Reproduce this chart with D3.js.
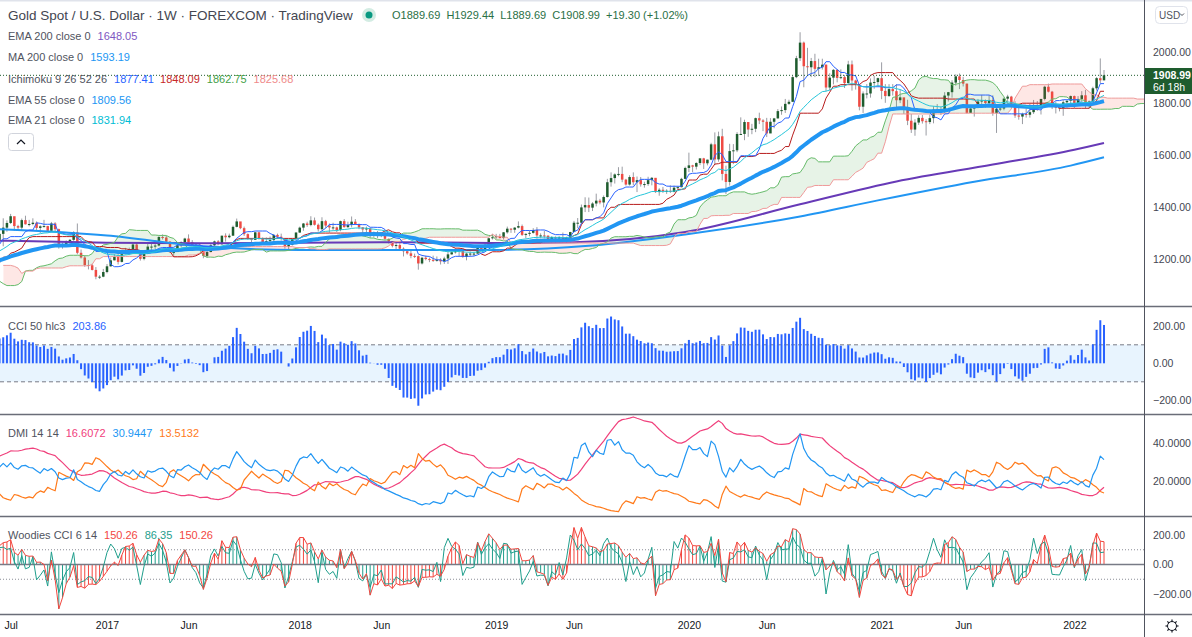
<!DOCTYPE html>
<meta charset="utf-8">
<script src="https://d3js.org/d3.v7.min.js"></script>
<body style="margin:0; background:#fff; overflow:hidden">
<div id="chart"></div>
</body>
<script>

    // Weekly bars [high, low, close]; first row = week of 5 Jan 2015, open of each week = previous close
    var hlc2015 = [
        [1224,1186,1216],[1283,1215,1277],[1307,1275,1293],[1300,1250,1279],
        [1286,1232,1234],[1245,1216,1227],[1233,1195,1204],[1219,1197,1213],
        [1222,1164,1165],[1173,1147,1153],[1188,1142,1183],[1220,1178,1199],[1224,1178,1201],
        [1224,1192,1204],[1209,1183,1203],[1206,1174,1178],[1215,1170,1179],
        [1198,1169,1189],[1232,1182,1225],[1232,1199,1205],[1209,1180,1190],
        [1206,1162,1168],[1194,1163,1180],[1205,1174,1201],[1204,1168,1173],[1188,1161,1168],
        [1175,1146,1157],[1165,1131,1132],[1131,1077,1096],[1105,1077,1094],
        [1104,1080,1094],[1127,1093,1113],[1170,1112,1160],[1168,1118,1134],[1147,1117,1121],
        [1125,1099,1104],[1142,1100,1138],[1157,1128,1146],[1147,1108,1137],
        [1161,1127,1156],[1191,1155,1177],[1179,1160,1163],[1180,1137,1142],
        [1142,1085,1088],[1095,1073,1081],[1090,1062,1076],[1080,1052,1057],[1088,1046,1087],
        [1088,1061,1075],[1080,1047,1066],[1081,1062,1076],[1082,1058,1061]
    ];
    var hlc2016 = [
        [1112,1060,1104],[1104,1072,1089],[1112,1080,1097],[1127,1095,1117],
        [1173,1111,1158],[1263,1157,1239],[1241,1192,1227],[1253,1200,1222],[1282,1226,1270],
        [1287,1239,1259],[1271,1224,1255],[1251,1208,1221],[1244,1208,1222],
        [1244,1211,1242],[1262,1223,1235],[1271,1231,1232],[1297,1233,1291],
        [1304,1263,1291],[1290,1263,1273],[1291,1241,1253],[1256,1208,1214],[1248,1200,1243],
        [1285,1239,1275],[1315,1269,1298],[1358,1250,1322],[1350,1306,1340],
        [1375,1336,1366],[1357,1310,1328],[1333,1311,1322],[1357,1311,1351],
        [1368,1334,1335],[1352,1327,1336],[1358,1331,1341],[1346,1313,1321],[1331,1302,1327],
        [1352,1323,1328],[1329,1305,1310],[1344,1310,1338],[1343,1309,1316],
        [1318,1241,1257],[1264,1241,1251],[1273,1250,1266],[1278,1260,1275],[1308,1271,1304],
        [1338,1219,1225],[1238,1203,1207],[1215,1171,1178],[1197,1161,1177],
        [1183,1157,1159],[1170,1123,1133],[1139,1124,1133],[1163,1131,1151]
    ];
    var hlc2017 = [
        [1182,1146,1173],[1207,1172,1196],[1220,1196,1209],[1220,1180,1190],[1226,1188,1220],
        [1244,1219,1234],[1245,1216,1238],[1264,1233,1257],[1264,1222,1226],
        [1228,1195,1202],[1233,1196,1229],[1259,1227,1249],[1262,1236,1249],
        [1273,1240,1253],[1289,1250,1286],[1296,1276,1284],[1290,1260,1268],
        [1270,1225,1227],[1236,1214,1228],[1264,1228,1254],[1269,1246,1266],[1283,1259,1280],
        [1296,1265,1266],[1274,1251,1254],[1259,1242,1256],[1260,1237,1242],
        [1243,1204,1213],[1234,1205,1228],[1258,1227,1254],[1272,1250,1269],[1274,1256,1258],
        [1291,1256,1291],[1300,1268,1285],[1299,1281,1291],[1330,1290,1325],
        [1357,1323,1346],[1338,1316,1320],[1326,1290,1297],[1300,1275,1280],
        [1281,1261,1275],[1306,1276,1304],[1306,1276,1280],[1284,1263,1266],[1284,1263,1270],
        [1288,1267,1274],[1297,1268,1294],[1299,1281,1287],[1299,1272,1280],
        [1279,1241,1248],[1261,1236,1256],[1279,1253,1278],[1305,1274,1303]
    ];
    var hlc2018 = [
        [1326,1302,1322],[1340,1310,1338],[1345,1325,1332],[1366,1327,1350],[1361,1330,1333],
        [1338,1307,1316],[1362,1311,1347],[1352,1321,1330],[1338,1303,1323],
        [1341,1313,1323],[1326,1305,1313],[1349,1308,1347],[1355,1322,1324],
        [1345,1321,1332],[1365,1323,1345],[1355,1332,1336],[1338,1316,1323],[1324,1302,1315],
        [1326,1305,1319],[1322,1282,1291],[1307,1284,1302],[1309,1281,1294],
        [1304,1285,1298],[1310,1275,1279],[1280,1261,1270],[1270,1246,1252],
        [1264,1238,1255],[1262,1238,1241],[1246,1211,1231],[1235,1218,1223],[1236,1204,1213],
        [1222,1205,1212],[1215,1160,1184],[1210,1180,1206],[1214,1196,1201],
        [1207,1189,1198],[1214,1190,1194],[1211,1191,1198],[1204,1180,1192],
        [1210,1182,1203],[1233,1182,1219],[1233,1218,1227],[1243,1222,1235],[1243,1211,1233],
        [1237,1206,1209],[1226,1196,1222],[1230,1211,1222],[1229,1212,1222],
        [1252,1221,1248],[1252,1235,1238],[1261,1236,1256],[1284,1255,1281]
    ];
    var hlc2019 = [
        [1298,1276,1285],[1298,1279,1289],[1298,1280,1282],[1305,1276,1304],[1326,1299,1318],
        [1320,1302,1314],[1324,1302,1322],[1346,1319,1328],[1334,1290,1294],
        [1300,1281,1298],[1310,1289,1302],[1320,1299,1313],[1324,1280,1292],
        [1300,1281,1292],[1310,1281,1291],[1292,1270,1275],[1289,1266,1286],[1288,1266,1280],
        [1289,1279,1286],[1303,1274,1277],[1287,1266,1284],[1306,1275,1305],
        [1348,1305,1341],[1359,1320,1341],[1411,1338,1400],[1439,1382,1409],
        [1438,1382,1399],[1420,1386,1415],[1453,1404,1426],[1433,1412,1419],[1446,1400,1440],
        [1510,1438,1497],[1535,1480,1513],[1531,1492,1527],[1555,1520,1529],
        [1557,1497,1507],[1510,1484,1488],[1524,1484,1517],[1535,1485,1497],[1519,1459,1505],
        [1517,1480,1489],[1499,1476,1490],[1518,1483,1505],[1517,1485,1514],
        [1512,1456,1459],[1474,1445,1468],[1479,1456,1462],[1470,1452,1464],
        [1485,1456,1460],[1484,1458,1476],[1482,1471,1478],[1514,1477,1510],
        [1557,1510,1552]
    ];
    var hlc2020 = [
        [1611,1536,1562],[1564,1536,1557],[1574,1546,1571],[1589,1563,1589],
        [1591,1548,1570],[1584,1562,1584],[1649,1582,1643],[1689,1564,1585],
        [1692,1576,1674],[1703,1504,1529],[1561,1451,1498],[1645,1484,1617],[1644,1567,1620],
        [1690,1613,1683],[1747,1680,1683],[1738,1659,1729],[1722,1672,1700],
        [1722,1682,1703],[1746,1690,1744],[1765,1721,1735],[1740,1694,1730],
        [1745,1671,1685],[1744,1695,1730],[1745,1705,1743],[1779,1742,1771],[1789,1757,1775],
        [1818,1764,1799],[1815,1795,1807],[1906,1806,1902],[1984,1898,1975],
        [2075,1964,2035],[2039,1863,1944],[2015,1911,1940],[1976,1902,1964],[1992,1902,1934],
        [1973,1906,1940],[1973,1931,1950],[1951,1848,1862],[1917,1851,1900],
        [1933,1874,1930],[1933,1882,1899],[1932,1894,1902],[1910,1860,1879],
        [1965,1877,1951],[1966,1850,1889],[1892,1854,1872],[1875,1774,1788],[1847,1764,1839],
        [1875,1820,1839],[1897,1823,1881],[1907,1857,1883],[1900,1866,1898]
    ];
    var hlc2021 = [
        [1959,1817,1849],[1875,1803,1829],[1875,1826,1856],[1875,1831,1848],
        [1875,1785,1813],[1855,1802,1824],[1822,1760,1784],[1815,1717,1734],
        [1760,1687,1700],[1740,1676,1727],[1755,1718,1745],[1756,1723,1732],[1740,1677,1729],
        [1758,1721,1744],[1790,1724,1777],[1798,1764,1777],[1789,1756,1769],
        [1844,1763,1831],[1845,1808,1844],[1890,1823,1881],[1913,1869,1905],[1916,1856,1891],
        [1903,1866,1877],[1877,1761,1764],[1795,1770,1781],[1795,1750,1787],
        [1818,1782,1808],[1834,1792,1812],[1816,1784,1802],[1832,1791,1814],
        [1832,1753,1763],[1785,1687,1780],[1795,1771,1781],[1823,1774,1819],[1834,1804,1827],
        [1830,1782,1787],[1809,1745,1754],[1787,1738,1750],[1765,1721,1760],
        [1781,1746,1757],[1800,1746,1767],[1814,1760,1793],[1810,1772,1783],
        [1818,1758,1818],[1869,1812,1865],[1877,1843,1846],[1849,1779,1788],[1808,1762,1784],
        [1793,1770,1783],[1814,1753,1805],[1812,1785,1811],[1831,1790,1829]
    ];
    var hlc2022 = [
        [1831,1782,1797],[1829,1796,1818],[1848,1805,1832],[1853,1780,1791],[1812,1781,1808],
        [1865,1806,1859],[1902,1850,1898],[1974,1878,1889.69],[1929.44,1889.69,1908.99]
    ];
    var firstOpen = 1186;

    // Long averages: bar index (0 = week of 2 Jan 2017) and value
    var ma200Idx  = [-29,    0,   26,   52,   78,  104,  130,  156,  187,  208,  234,  260,  269];
    var ma200Val  = [1316, 1292, 1250, 1236, 1236, 1236, 1252, 1296, 1365, 1427, 1499, 1561, 1593];
    var ema200Idx = [-29,    0,   26,   52,   78,  104,  126,  156,  187,  213,  239,  261,  269];
    var ema200Val = [1272, 1264, 1262, 1264, 1266, 1263, 1266, 1305, 1412, 1500, 1565, 1622, 1648];

    // Time axis labels
    var tickIdx  = [-26, 0, 22, 52, 74, 105, 126, 157, 178, 209, 231, 261];
    var tickText = ["Jul", "2017", "Jun", "2018", "Jun", "2019", "Jun", "2020", "Jun", "2021", "Jun", "2022"];

    var priceTicks = [1200, 1400, 1600, 1800, 2000];
    var cciTicks = [200, 0, -200];
    var dmiTicks = [40, 20];
    var woodTicks = [200, 0, -200];

    // Layout
    var W = 1192, H = 637, plotR = 1144;
    var pMain = [0, 306], pCci = [307, 414], pDmi = [415, 516], pWood = [517, 614];
    var labelGray = "#50535e";
    var upCol = "#1e5c2e", downCol = "#ef4a43";

    var svg = d3.select("#chart").append("svg")
        .attr("width", W).attr("height", H)
        .style("font-family", "'Liberation Sans', Arial, sans-serif");
    var defs = svg.append("defs");

    // Build bars
    var raw = [].concat(hlc2015, hlc2016, hlc2017, hlc2018, hlc2019, hlc2020, hlc2021, hlc2022);
    var bars = raw.map(function (d, k) {
        return {i: k - 104, o: k ? raw[k - 1][2] : firstOpen, h: d[0], l: d[1], c: d[2]};
    });
    var closes = bars.map(function (d) { return d.c; });
    var hlc3 = bars.map(function (d) { return (d.h + d.l + d.c) / 3; });

    // Indicator helpers
    function emaCalc(vals, n) {
        var a = 2 / (n + 1), e = null;
        return vals.map(function (v) { e = e == null ? v : a * v + (1 - a) * e; return e; });
    }
    function rma(vals, n) {
        var a = 1 / n, e = null;
        return vals.map(function (v) { e = e == null ? v : a * v + (1 - a) * e; return e; });
    }
    function cciCalc(src, n) {
        return src.map(function (v, k) {
            if (k < n - 1) return null;
            var w = src.slice(k - n + 1, k + 1), m = d3.mean(w);
            var dev = d3.mean(w, function (s) { return Math.abs(s - m); });
            return dev ? (v - m) / (0.015 * dev) : 0;
        });
    }
    function mid(k, n) {
        if (k < n - 1) return null;
        var w = bars.slice(k - n + 1, k + 1);
        return (d3.max(w, function (d) { return d.h; }) + d3.min(w, function (d) { return d.l; })) / 2;
    }

    var ema21 = emaCalc(closes, 21), ema55 = emaCalc(closes, 55);
    var conv = bars.map(function (d, k) { return mid(k, 9); });
    var base = bars.map(function (d, k) { return mid(k, 26); });
    var leadA = bars.map(function (d, k) { return base[k] == null ? null : (conv[k] + base[k]) / 2; });
    var leadB = bars.map(function (d, k) { return mid(k, 52); });
    var cci50 = cciCalc(hlc3, 50);

    // DMI 14 14
    var trs = [], pdm = [], mdm = [];
    bars.forEach(function (d, k) {
        if (k === 0) { trs.push(d.h - d.l); pdm.push(0); mdm.push(0); return; }
        var p = bars[k - 1], up = d.h - p.h, dn = p.l - d.l;
        pdm.push(up > dn && up > 0 ? up : 0);
        mdm.push(dn > up && dn > 0 ? dn : 0);
        trs.push(Math.max(d.h - d.l, Math.abs(d.h - p.c), Math.abs(d.l - p.c)));
    });
    var trR = rma(trs, 14), pR = rma(pdm, 14), mR = rma(mdm, 14);
    var diPlus = pR.map(function (v, k) { return 100 * v / trR[k]; });
    var diMinus = mR.map(function (v, k) { return 100 * v / trR[k]; });
    var adx = rma(diPlus.map(function (v, k) {
        return Math.abs(v - diMinus[k]) / ((v + diMinus[k]) || 1);
    }), 14).map(function (v) { return 100 * v; });

    // Woodies CCI 6 14
    var turbo = cciCalc(closes, 6), cci14 = cciCalc(closes, 14);
    var teal = "#1f9e8c", wred = "#f2473f";
    function woodColor(k) {
        var up = true, down = true;
        for (var j = 1; j <= 5; j++) {
            var v = cci14[k - j];
            if (!(v > 0)) up = false;
            if (!(v < 0)) down = false;
        }
        return up ? teal : down ? wred : (cci14[k] < 0 ? teal : wred);
    }

    // Scales
    var x = d3.scaleLinear().domain([0, 269]).range([107, 1104]);
    var y = d3.scaleLinear().domain([1200, 2000]).range([259.3, 51.7]);
    var yCci = d3.scaleLinear().domain([-200, 200]).range([400.3, 326.3]);
    var yDmi = d3.scaleLinear().domain([20, 40]).range([481, 443.3]);
    var yWood = d3.scaleLinear().domain([-200, 200]).range([594, 535]);

    function pane(id, p) {
        defs.append("clipPath").attr("id", id).append("rect")
            .attr("x", 0).attr("y", p[0]).attr("width", plotR).attr("height", p[1] - p[0]);
        return svg.append("g").attr("clip-path", "url(#" + id + ")");
    }

    function seriesLine(g, vals, yS, color, w, shift) {
        var pts = bars.map(function (d, k) { return {x: d.i + (shift || 0), v: vals[k]}; });
        g.append("path")
            .attr("d", d3.line()
                .defined(function (d) { return d.v != null; })
                .x(function (d) { return x(d.x); })
                .y(function (d) { return yS(d.v); })(pts))
            .attr("fill", "none").attr("stroke", color).attr("stroke-width", w)
            .attr("stroke-linejoin", "round");
    }

    var vis = bars.filter(function (d) { return x(d.i) > -3; });

    // ---------- Main pane ----------
    var gMain = pane("clipMain", pMain);

    // Candles
    gMain.append("g").selectAll("line").data(vis).enter().append("line")
        .attr("x1", function (d) { return x(d.i); }).attr("x2", function (d) { return x(d.i); })
        .attr("y1", function (d) { return y(d.h); }).attr("y2", function (d) { return y(d.l); })
        .attr("stroke", "#9a9ca3").attr("stroke-width", 1);
    gMain.append("g").selectAll("rect").data(vis).enter().append("rect")
        .attr("x", function (d) { return x(d.i) - 1.25; })
        .attr("width", 2.5)
        .attr("y", function (d) { return y(Math.max(d.o, d.c)); })
        .attr("height", function (d) { return Math.max(1, Math.abs(y(d.o) - y(d.c))); })
        .attr("fill", function (d) { return d.c >= d.o ? upCol : downCol; });

    // Ichimoku cloud
    var cloud = bars.map(function (d, k) { return {x: d.i + 25, a: leadA[k], b: leadB[k]}; })
        .filter(function (d) { return d.a != null && d.b != null; });
    var areaAB = d3.area().x(function (d) { return x(d.x); })
        .y0(function (d) { return y(d.a); }).y1(function (d) { return y(d.b); });
    defs.append("clipPath").attr("id", "aboveB").append("path")
        .attr("d", d3.area().x(function (d) { return x(d.x); }).y0(0)
            .y1(function (d) { return y(d.b); })(cloud));
    defs.append("clipPath").attr("id", "belowB").append("path")
        .attr("d", d3.area().x(function (d) { return x(d.x); })
            .y0(function (d) { return y(d.b); }).y1(pMain[1])(cloud));
    gMain.append("path").attr("d", areaAB(cloud)).attr("fill", "rgba(67,160,71,0.13)")
        .attr("clip-path", "url(#aboveB)");
    gMain.append("path").attr("d", areaAB(cloud)).attr("fill", "rgba(244,67,54,0.13)")
        .attr("clip-path", "url(#belowB)");

    // Long averages
    function sparseLine(idx, val, color, w) {
        gMain.append("path")
            .attr("d", d3.line().curve(d3.curveMonotoneX)
                .x(function (d) { return x(d); })
                .y(function (d, j) { return y(val[j]); })(idx))
            .attr("fill", "none").attr("stroke", color).attr("stroke-width", w);
    }
    sparseLine(ema200Idx, ema200Val, "#673ab7", 2);
    sparseLine(ma200Idx, ma200Val, "#2196f3", 2);

    seriesLine(gMain, leadA, y, "#66bb6a", 1, 25);
    seriesLine(gMain, leadB, y, "#ef9a9a", 1, 25);
    seriesLine(gMain, base, y, "#b71c1c", 1);
    seriesLine(gMain, conv, y, "#2962ff", 1);
    seriesLine(gMain, ema55, y, "#2196f3", 4);
    seriesLine(gMain, ema21, y, "#26c6da", 1);

    // Current price line
    var last = bars[bars.length - 1];
    gMain.append("line").attr("x1", 0).attr("x2", plotR)
        .attr("y1", y(last.c)).attr("y2", y(last.c))
        .attr("stroke", upCol).attr("stroke-width", 1).attr("stroke-dasharray", "1,2");

    // ---------- CCI pane ----------
    var gCci = pane("clipCci", pCci);
    gCci.append("rect").attr("x", 0).attr("width", plotR)
        .attr("y", yCci(100)).attr("height", yCci(-100) - yCci(100))
        .attr("fill", "rgba(33,150,243,0.1)");
    [100, -100].forEach(function (v) {
        gCci.append("line").attr("x1", 0).attr("x2", plotR).attr("y1", yCci(v)).attr("y2", yCci(v))
            .attr("stroke", "#787b86").attr("stroke-dasharray", "4,3");
    });
    gCci.append("g").selectAll("rect").data(vis).enter().append("rect")
        .attr("x", function (d) { return x(d.i) - 1; })
        .attr("width", 2)
        .attr("y", function (d) { var v = cci50[d.i + 104]; return Math.min(yCci(v), yCci(0)); })
        .attr("height", function (d) { var v = cci50[d.i + 104]; return Math.abs(yCci(v) - yCci(0)); })
        .attr("fill", "#2962ff");

    // ---------- DMI pane ----------
    var gDmi = pane("clipDmi", pDmi);
    seriesLine(gDmi, adx, yDmi, "#f0407c", 1.2);
    seriesLine(gDmi, diMinus, yDmi, "#ff7a1a", 1.2);
    seriesLine(gDmi, diPlus, yDmi, "#2196f3", 1.2);

    // ---------- Woodies CCI pane ----------
    var gWood = pane("clipWood", pWood);
    [100, -100].forEach(function (v) {
        gWood.append("line").attr("x1", 0).attr("x2", plotR).attr("y1", yWood(v)).attr("y2", yWood(v))
            .attr("stroke", "#8a8d96").attr("stroke-dasharray", "1,2");
    });
    gWood.append("g").selectAll("line").data(vis).enter().append("line")
        .attr("x1", function (d) { return x(d.i); }).attr("x2", function (d) { return x(d.i); })
        .attr("y1", yWood(0))
        .attr("y2", function (d) { return yWood(cci14[d.i + 104]); })
        .attr("stroke", function (d) { return woodColor(d.i + 104); }).attr("stroke-width", 1);
    gWood.append("line").attr("x1", 0).attr("x2", plotR).attr("y1", yWood(0)).attr("y2", yWood(0))
        .attr("stroke", "#787b86").attr("stroke-width", 1.5);
    seriesLine(gWood, turbo, yWood, teal, 1);
    seriesLine(gWood, cci14, yWood, wred, 1);

    // ---------- Frame ----------
    svg.append("rect").attr("x", 0).attr("y", 0).attr("width", W).attr("height", 1.5).attr("fill", "#e0e3eb");
    [pMain[1] + 0.5, pCci[1] + 0.5, pDmi[1] + 0.5, pWood[1] + 0.5].forEach(function (yy) {
        svg.append("line").attr("x1", 0).attr("x2", W).attr("y1", yy).attr("y2", yy)
            .attr("stroke", "#6a6d78").attr("stroke-width", 1.5);
    });
    svg.append("line").attr("x1", plotR + 0.5).attr("x2", plotR + 0.5).attr("y1", 0).attr("y2", H)
        .attr("stroke", "#50535e").attr("stroke-width", 1);

    // ---------- Axes ----------
    function rightAxis(scale, ticks, fmt) {
        svg.append("g").attr("transform", "translate(" + plotR + ",0)")
            .call(d3.axisRight(scale).tickValues(ticks).tickFormat(d3.format(fmt)).tickSize(0).tickPadding(9))
            .call(function (g) { g.select(".domain").remove(); })
            .selectAll("text").style("font-size", "10.5px").attr("fill", "#434651");
    }
    rightAxis(y, priceTicks, ".2f");
    rightAxis(yCci, cciTicks, ".2f");
    rightAxis(yDmi, dmiTicks, ".4f");
    rightAxis(yWood, woodTicks, ".2f");

    svg.append("g").attr("transform", "translate(0," + pWood[1] + ")")
        .call(d3.axisBottom(x).tickValues(tickIdx)
            .tickFormat(function (d, j) { return tickText[j]; }).tickSize(0).tickPadding(8))
        .call(function (g) { g.select(".domain").remove(); })
        .selectAll("text").style("font-size", "10.5px").attr("fill", "#131722");

    // Price label
    svg.append("rect").attr("x", plotR + 1).attr("y", 68).attr("width", W - plotR - 1).attr("height", 26)
        .attr("fill", upCol);
    svg.append("text").attr("x", 1153).attr("y", 79).text(d3.format(".2f")(last.c))
        .attr("fill", "#fff").style("font-size", "10.5px").style("font-weight", "bold");
    svg.append("text").attr("x", 1153).attr("y", 91).text("6d 18h")
        .attr("fill", "#fff").style("font-size", "10.5px");

    // USD button
    svg.append("rect").attr("x", 1155.5).attr("y", 6.5).attr("width", 32).attr("height", 17).attr("rx", 4)
        .attr("fill", "#fff").attr("stroke", "#e0e3eb");
    svg.append("text").attr("x", 1159).attr("y", 19).text("USD").attr("fill", labelGray).style("font-size", "10px");
    svg.append("path").attr("d", "M1180,13.5 L1182,15.5 L1184,13.5").attr("fill", "none")
        .attr("stroke", labelGray).attr("stroke-width", 1);

    // Gear icon
    var gear = svg.append("g").attr("transform", "translate(1172,626)");
    gear.append("circle").attr("r", 4.5).attr("fill", "none").attr("stroke", "#131722").attr("stroke-width", 1);
    d3.range(8).forEach(function (j) {
        var a = j * Math.PI / 4;
        gear.append("line").attr("x1", Math.cos(a) * 4.5).attr("y1", Math.sin(a) * 4.5)
            .attr("x2", Math.cos(a) * 6.5).attr("y2", Math.sin(a) * 6.5)
            .attr("stroke", "#131722").attr("stroke-width", 1.2);
    });

    // ---------- Legends ----------
    function legend(yy, label, items, size) {
        var t = svg.append("text").attr("x", 8).attr("y", yy).style("font-size", (size || 11) + "px");
        t.append("tspan").text(label).attr("fill", labelGray);
        items.forEach(function (it) {
            t.append("tspan").attr("dx", 7).text(it[0]).attr("fill", it[1]);
        });
        return t;
    }
    svg.append("text").attr("x", 8).attr("y", 20).style("font-size", "13.5px").attr("fill", "#434651")
        .text("Gold Spot / U.S. Dollar \u00b7 1W \u00b7 FOREXCOM \u00b7 TradingView");
    svg.append("circle").attr("cx", 369).attr("cy", 15).attr("r", 7).attr("fill", "#d3ece3");
    svg.append("circle").attr("cx", 369).attr("cy", 15).attr("r", 3.5).attr("fill", "#089981");
    svg.append("text").attr("x", 392).attr("y", 19).style("font-size", "11px").attr("fill", "#2a7045")
        .text("O1889.69  H1929.44  L1889.69  C1908.99  +19.30 (+1.02%)").attr("xml:space", "preserve");

    legend(40, "EMA 200 close 0", [["1648.05", "#7e57c2"]]);
    legend(61, "MA 200 close 0", [["1593.19", "#2196f3"]]);
    legend(83, "Ichimoku 9 26 52 26", [["1877.41", "#2962ff"], ["1848.09", "#c62828"], ["1862.75", "#43a047"], ["1825.68", "#ef8a8a"]]);
    legend(104, "EMA 55 close 0", [["1809.56", "#2196f3"]]);
    legend(124, "EMA 21 close 0", [["1831.94", "#00bcd4"]]);

    svg.append("rect").attr("x", 8.5).attr("y", 133.5).attr("width", 25).attr("height", 17).attr("rx", 3)
        .attr("fill", "#fff").attr("stroke", "#d1d4dc");
    svg.append("path").attr("d", "M17,144 L21,140 L25,144").attr("fill", "none")
        .attr("stroke", "#131722").attr("stroke-width", 1.2);

    legend(330, "CCI 50 hlc3", [["203.86", "#2962ff"]]);
    legend(437, "DMI 14 14", [["16.6072", "#f0407c"], ["30.9447", "#2196f3"], ["13.5132", "#ff7a1a"]]);
    legend(539, "Woodies CCI 6 14", [["150.26", wred], ["86.35", teal], ["150.26", wred]]);

</script>
